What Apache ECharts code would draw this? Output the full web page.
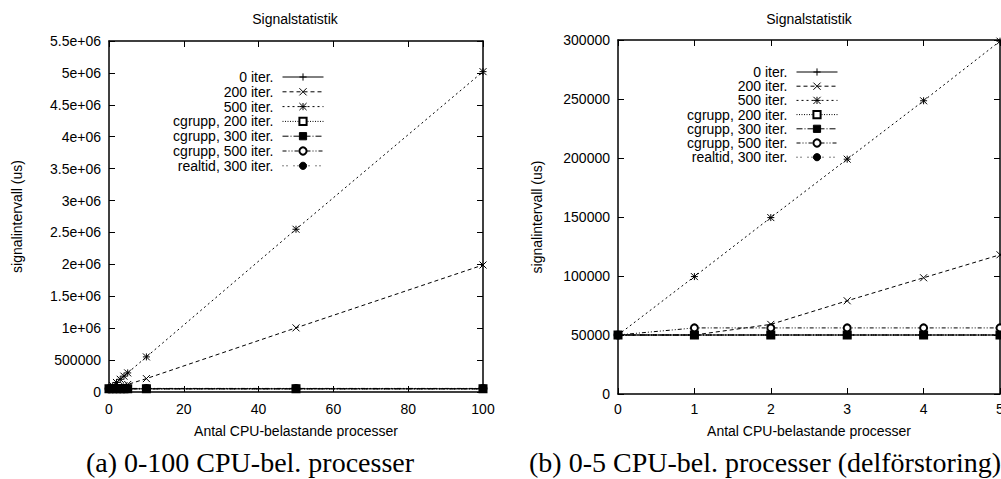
<!DOCTYPE html>
<html><head><meta charset="utf-8">
<script src="https://cdn.jsdelivr.net/npm/echarts@6/dist/echarts.min.js"></script>
<style>html,body{margin:0;padding:0;background:#fff}#c{width:1001px;height:479px}</style>
</head><body><div id="c"></div>
<script>
// ---- data ----
const xValues = [0, 1, 2, 3, 4, 5, 10, 50, 100];
const seriesNames = ['0 iter.', '200 iter.', '500 iter.', 'cgrupp, 200 iter.', 'cgrupp, 300 iter.', 'cgrupp, 500 iter.', 'realtid, 300 iter.'];
const iter0 = [50000, 50000, 50000, 50000, 50000, 50000, 50000, 50000, 50000];
const iter200 = [50000, 50000, 59000, 79000, 98500, 118000, 210000, 1005000, 1990000];
const iter500 = [50000, 99500, 149500, 199000, 248500, 299000, 550000, 2550000, 5020000];
const cgrupp200 = [50000, 50000, 50000, 50000, 50000, 50000, 50000, 50000, 50000];
const cgrupp300 = [50000, 50000, 50000, 50000, 50000, 50000, 50000, 50000, 50000];
const cgrupp500 = [50000, 56000, 56000, 56000, 56000, 56000, 56000, 56000, 56000];
const realtid300 = [50000, 50000, 50000, 50000, 50000, 50000, 50000, 50000, 50000];
const allValues = [iter0, iter200, iter500, cgrupp200, cgrupp300, cgrupp500, realtid300];

const yTickLabelsA = ['0', '500000', '1e+06', '1.5e+06', '2e+06', '2.5e+06', '3e+06', '3.5e+06', '4e+06', '4.5e+06', '5e+06', '5.5e+06'];
const yTickLabelsB = ['0', '50000', '100000', '150000', '200000', '250000', '300000'];
const xTickLabelsA = ['0', '20', '40', '60', '80', '100'];
const xTickLabelsB = ['0', '1', '2', '3', '4', '5'];
const chartTitle = 'Signalstatistik';
const xName = 'Antal CPU-belastande processer';
const yName = 'signalintervall (us)';
const captionA = '(a) 0-100 CPU-bel. processer';
const captionB = '(b) 0-5 CPU-bel. processer (delförstoring)';

// ---- styles ----
const SANS = 'Liberation Sans';
const SERIF = 'Liberation Serif';
const P_PLUS = 'path://M0,5L10,5M5,0L5,10';
const P_CROSS = 'path://M0,0L10,10M10,0L0,10';
const P_STAR = 'path://M0,0L10,10M10,0L0,10M0,5L10,5M5,0L5,10';
const styles = [
  { symbol: P_PLUS, dash: 'solid' },
  { symbol: P_CROSS, dash: [4, 3] },
  { symbol: P_STAR, dash: [2, 3] },
  { symbol: 'emptyRect', dash: [1, 1.5] },
  { symbol: 'rect', dash: [6, 2, 1, 2] },
  { symbol: 'emptyCircle', dash: [4, 2, 1, 2, 1, 2] },
  { symbol: 'circle', dash: [1, 3, 1, 6] }
];

const labelStyle = { color: '#000', fontFamily: SANS, fontSize: 14 };

function baseAxis(extra) {
  return Object.assign({
    type: 'value',
    axisLine: { show: true, onZero: false, lineStyle: { color: '#000', width: 1.5 } },
    axisTick: { show: true, inside: true, length: 6, lineStyle: { color: '#000', width: 1 } },
    splitLine: { show: false },
    axisLabel: Object.assign({ show: true, showMinLabel: true, showMaxLabel: true }, labelStyle),
    nameTextStyle: labelStyle
  }, extra);
}

const grids = [
  { left: 109, right: 1001 - 483, top: 41, bottom: 479 - 392, outerBoundsMode: 'none' },
  { left: 618, right: 1, top: 40, bottom: 479 - 394, outerBoundsMode: 'none' }
];

const xAxes = [
  baseAxis({ gridIndex: 0, position: 'bottom', min: 0, max: 100, interval: 20,
    axisLabel: Object.assign({ margin: 10, showMinLabel: true, showMaxLabel: true, formatter: v => xTickLabelsA[Math.round(v / 20)] }, labelStyle),
    name: xName, nameLocation: 'middle', nameGap: 32 }),
  baseAxis({ gridIndex: 0, position: 'top', min: 0, max: 100, interval: 20, axisLabel: { show: false } }),
  baseAxis({ gridIndex: 1, position: 'bottom', min: 0, max: 5, interval: 1,
    axisLabel: Object.assign({ margin: 8, showMinLabel: true, showMaxLabel: true, formatter: v => xTickLabelsB[Math.round(v)] }, labelStyle),
    name: xName, nameLocation: 'middle', nameGap: 30 }),
  baseAxis({ gridIndex: 1, position: 'top', min: 0, max: 5, interval: 1, axisLabel: { show: false } })
];
const yAxes = [
  baseAxis({ gridIndex: 0, position: 'left', min: 0, max: 5500000, interval: 500000,
    axisLabel: Object.assign({ margin: 8, showMinLabel: true, showMaxLabel: true, formatter: v => yTickLabelsA[Math.round(v / 500000)] }, labelStyle),
    name: yName, nameLocation: 'middle', nameGap: 85 }),
  baseAxis({ gridIndex: 0, position: 'right', min: 0, max: 5500000, interval: 500000, axisLabel: { show: false } }),
  baseAxis({ gridIndex: 1, position: 'left', min: 0, max: 300000, interval: 50000,
    axisLabel: Object.assign({ margin: 8, showMinLabel: true, showMaxLabel: true, formatter: v => yTickLabelsB[Math.round(v / 50000)] }, labelStyle),
    name: yName, nameLocation: 'middle', nameGap: 74 }),
  baseAxis({ gridIndex: 1, position: 'right', min: 0, max: 300000, interval: 50000, axisLabel: { show: false } })
];

const series = [];
[0, 1].forEach(g => {
  allValues.forEach((vals, i) => {
    const st = styles[i];
    series.push({
      type: 'line',
      name: seriesNames[i],
      xAxisIndex: g * 2,
      yAxisIndex: g * 2,
      data: xValues.map((x, j) => [x, vals[j]]),
      symbol: st.symbol,
      symbolSize: 7,
      showSymbol: true,
      showAllSymbol: true,
      clip: true,
      z: 2 + i,
      lineStyle: { color: '#000', width: 1, type: st.dash },
      itemStyle: { color: '#000', borderColor: '#000', borderWidth: 1 },
      emphasis: { disabled: true },
      animation: false
    });
  });
});

function legendAt(right, top, gap) {
  return {
    data: seriesNames,
    orient: 'vertical',
    align: 'right',
    right: right,
    top: top,
    padding: 0,
    itemWidth: 41,
    itemHeight: 9,
    itemGap: gap,
    selectedMode: false,
    lineStyle: { width: 1 },
    itemStyle: { borderWidth: 1 },
    textStyle: { color: '#000', fontFamily: SANS, fontSize: 14, lineHeight: 14, padding: [0, 4, 0, 0] }
  };
}

function titleAt(text, x, y, font, size) {
  return { text: text, left: x, top: y, textAlign: 'center', padding: 0,
    textStyle: { color: '#000', fontFamily: font, fontSize: size, fontWeight: 'normal' } };
}

const option = {
  animation: false,
  backgroundColor: '#fff',
  title: [
    titleAt(chartTitle, 295, 12, SANS, 14),
    titleAt(chartTitle, 809, 12, SANS, 14),
    titleAt(captionA, 250, 448, SERIF, 28),
    titleAt(captionB, 765, 448, SERIF, 28)
  ],
  legend: [legendAt(1001 - 324, 70, 0.8), legendAt(1001 - 838, 65, 0.2)],
  grid: grids,
  xAxis: xAxes,
  yAxis: yAxes,
  series: series
};

const chart = echarts.init(document.getElementById('c'), null, { renderer: 'svg' });
chart.setOption(option);
</script>
</body></html>
